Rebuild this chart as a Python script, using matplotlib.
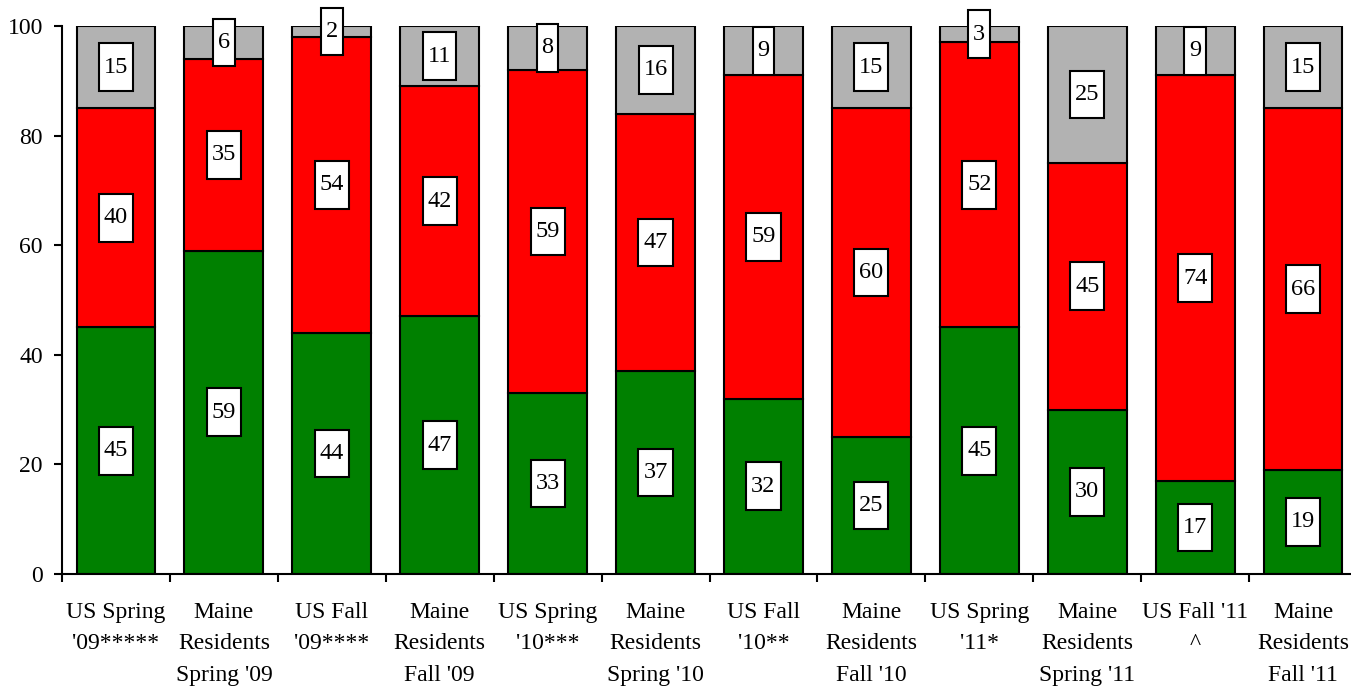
import matplotlib
matplotlib.use("Agg")
import matplotlib.pyplot as plt
import numpy as np
from matplotlib.path import Path

# ==================== data ====================
categories = ["US Spring\n'09*****", "Maine\nResidents\nSpring '09",
              "US Fall\n'09****", "Maine\nResidents\nFall '09",
              "US Spring\n'10***", "Maine\nResidents\nSpring '10",
              "US Fall\n'10**", "Maine\nResidents\nFall '10",
              "US Spring\n'11*", "Maine\nResidents\nSpring '11",
              "US Fall '11\n^", "Maine\nResidents\nFall '11"]
green_vals = [45, 59, 44, 47, 33, 37, 32, 25, 45, 30, 17, 19]
red_vals = [40, 35, 54, 42, 59, 47, 59, 60, 52, 45, 74, 66]
grey_vals = [15, 6, 2, 11, 8, 16, 9, 15, 3, 25, 9, 15]

colors = ["#008000", "#FF0000", "#B2B2B2"]
plt.rcParams['font.family'] = ['Liberation Serif', 'DejaVu Serif']


def tall_box(x0, y0, width, height, mutation_size):
    # white label box, taller than wide
    px = 0.2 * mutation_size
    py = 0.55 * mutation_size
    x0, y0 = x0 - px, y0 - py
    x1, y1 = x0 + width + 2 * px, y0 + height + 2 * py
    return Path([(x0, y0), (x1, y0), (x1, y1), (x0, y1), (x0, y0)], closed=True)


fig = plt.figure(figsize=(13.51, 6.86), dpi=100)
ax = fig.add_axes([62 / 1351, 112 / 686, 1295 / 1351, 548 / 686])

x = np.arange(len(categories))
bottom = np.zeros(len(categories))
for vals, col in zip([green_vals, red_vals, grey_vals], colors):
    vals = np.array(vals, dtype=float)
    ax.bar(x, vals, width=0.73, bottom=bottom, color=col, edgecolor="black", linewidth=1.5, zorder=2)
    for xi, b, v in zip(x, bottom, vals):
        ax.text(xi, b + v / 2, f"{int(v)}", ha="center", va="center", fontsize=17.5, zorder=4,
                clip_on=False,
                bbox=dict(boxstyle=tall_box, facecolor="white", edgecolor="black", linewidth=1.5))
    bottom += vals

ax.set_xlim(-0.5, 11.5)
ax.set_ylim(0, 100)
ax.set_yticks([0, 20, 40, 60, 80, 100])
ax.set_xticks(x)
ax.set_xticklabels(categories, linespacing=1.65)
ax.set_xticks(np.arange(-0.5, 12, 1), minor=True)
ax.tick_params(axis="x", which="major", length=0, pad=20, labelsize=17)
ax.tick_params(axis="x", which="minor", length=5.8, width=1.5, direction="out")
ax.tick_params(axis="y", length=5.8, width=1.5, pad=8, labelsize=17)

for s in ["top", "right"]:
    ax.spines[s].set_visible(False)
for s in ["left", "bottom"]:
    ax.spines[s].set_linewidth(1.5)

fig.savefig("out.png", dpi=100)
